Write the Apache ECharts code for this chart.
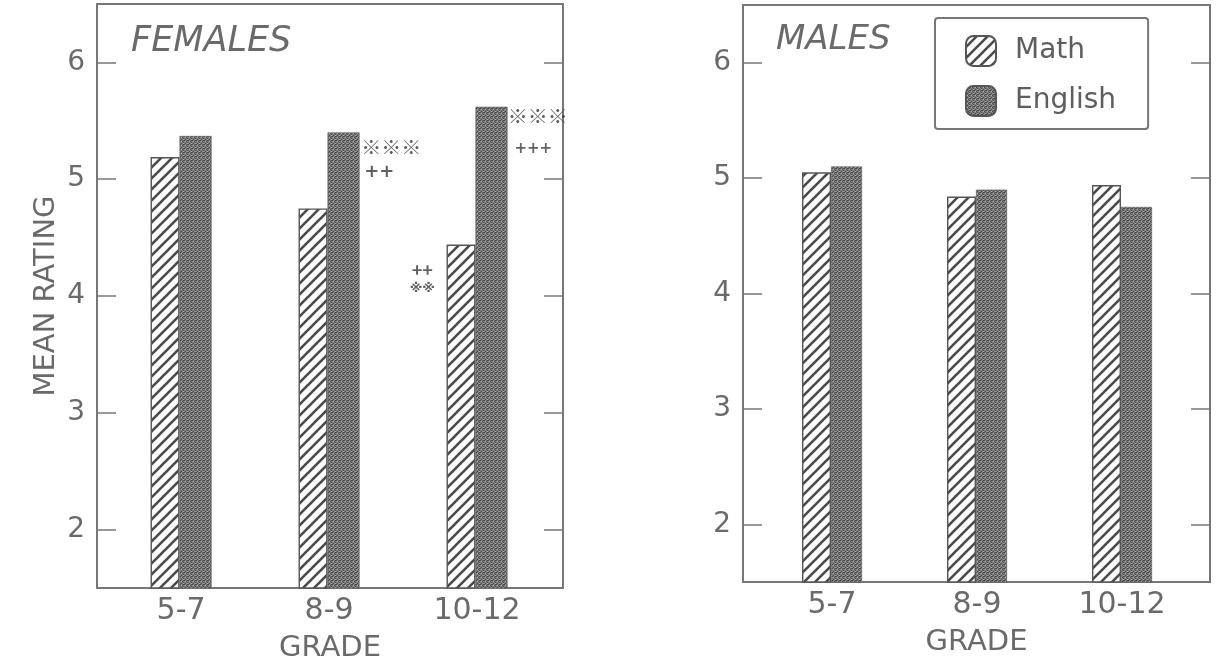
<!DOCTYPE html>
<html>
<head>
<meta charset="utf-8">
<script src="https://cdn.jsdelivr.net/npm/echarts@6/dist/echarts.min.js"></script>
<style>
  html, body { margin: 0; padding: 0; background: #fff; }
  #main { width: 1225px; height: 672px; }
</style>
</head>
<body>
<div id="main"></div>
<script>
// 数据
const grades = ['5-7', '8-9', '10-12'];
const gradePos = [1, 2, 3];
const femaleMath = [5.19, 4.75, 4.44];
const femaleEnglish = [5.37, 5.40, 5.62];
const maleMath = [5.05, 4.84, 4.94];
const maleEnglish = [5.10, 4.90, 4.75];
const yTicks = [2, 3, 4, 5, 6];
// significance marks (data coords on the FEMALES panel)
const markX = [2.42, 2.34, 3.41, 3.38, 2.63, 2.63];
const markY = [5.27, 5.06, 5.54, 5.26, 4.22, 4.06];
const markText = ['※※※', '++', '※※※', '+++', '++', '※※'];
const markSize = [20, 18, 20, 15, 18, 13];

const ink = '#6a6a6a';
const font = 'DejaVu Sans';

// hatch pattern for Math
let hatch = document.createElement('canvas');
hatch.width = 11; hatch.height = 11;
let hc = hatch.getContext('2d');
hc.fillStyle = '#fff';
hc.fillRect(0, 0, 11, 11);
hc.strokeStyle = '#4a4a4a';
hc.lineWidth = 2.6;
hc.beginPath();
hc.moveTo(-3, 14); hc.lineTo(14, -3);
hc.moveTo(-3, 3); hc.lineTo(3, -3);
hc.moveTo(8, 14); hc.lineTo(14, 8);
hc.stroke();

// stipple pattern for English
let dots = document.createElement('canvas');
dots.width = 4; dots.height = 4;
let dc = dots.getContext('2d');
dc.fillStyle = '#7c7c7c';
dc.fillRect(0, 0, 4, 4);
dc.fillStyle = '#474747';
[[0, 0], [2, 1], [1, 3], [3, 2], [3, 0]].forEach(p => dc.fillRect(p[0], p[1], 1, 1));
dc.fillStyle = '#b0b0b0';
[[1, 1], [3, 3]].forEach(p => dc.fillRect(p[0], p[1], 1, 1));

const mathColor = { image: hatch, repeat: 'repeat' };
const engColor = { image: dots, repeat: 'repeat' };

function pairs(vals) {
  return vals.map((v, i) => [gradePos[i], v]);
}

function xAxisFor(gi, min, max) {
  return {
    type: 'value', gridIndex: gi, min: min, max: max,
    splitLine: { show: false },
    axisLine: { show: false },
    axisTick: { show: false },
    axisLabel: {
      customValues: gradePos,
      formatter: v => grades[gradePos.indexOf(v)] || '',
      color: ink, fontSize: 30, fontFamily: font, margin: 8
    },
    name: 'GRADE', nameLocation: 'middle', nameGap: 46,
    nameTextStyle: { color: ink, fontSize: 29, fontFamily: font }
  };
}

function yAxisFor(gi, side, withName) {
  let ax = {
    type: 'value', gridIndex: gi, position: side, min: 1.5, max: 6.5,
    splitLine: { show: false },
    axisLine: { show: false },
    axisTick: {
      show: true, inside: true, length: 19, customValues: yTicks,
      lineStyle: { color: '#777', width: 1.5 }
    },
    axisLabel: {
      show: side == 'left', customValues: yTicks,
      color: ink, fontSize: 28, fontFamily: font, margin: 12
    }
  };
  if (withName) {
    ax.name = 'MEAN RATING';
    ax.nameLocation = 'middle';
    ax.nameRotate = 90;
    ax.nameGap = 36;
    ax.nameTextStyle = { color: ink, fontSize: 29, fontFamily: font };
  }
  return ax;
}

function barSeries(name, vals, xi, yi, color, w, bw) {
  return {
    name: name, type: 'bar', xAxisIndex: xi, yAxisIndex: yi,
    barWidth: w, barGap: '0%',
    itemStyle: { color: color, borderColor: '#555', borderWidth: bw },
    data: pairs(vals)
  };
}

let chart = echarts.init(document.getElementById('main'));
let option = {
  backgroundColor: '#fff',
  animation: false,
  title: [
    { text: 'FEMALES', left: 126, top: 19,
      textStyle: { color: ink, fontSize: 35, fontStyle: 'italic', fontWeight: 'normal', fontFamily: font } },
    { text: 'MALES', left: 771, top: 18,
      textStyle: { color: ink, fontSize: 34, fontStyle: 'italic', fontWeight: 'normal', fontFamily: font } }
  ],
  legend: {
    orient: 'vertical', left: 935, top: 18,
    padding: [17, 32, 12, 30], itemGap: 18, itemWidth: 30, itemHeight: 30,
    borderColor: '#777', borderWidth: 2, borderRadius: 3,
    data: ['Math', 'English'],
    textStyle: { color: '#5e5e5e', fontSize: 28, fontFamily: font, padding: [0, 0, 0, 14] }
  },
  grid: [
    { left: 97, top: 4, width: 466, height: 584, show: true, borderColor: '#777', borderWidth: 2, backgroundColor: 'transparent' },
    { left: 743, top: 5, width: 467, height: 577, show: true, borderColor: '#777', borderWidth: 2, backgroundColor: 'transparent' }
  ],
  xAxis: [xAxisFor(0, 0.432, 3.581), xAxisFor(1, 0.386, 3.607)],
  yAxis: [yAxisFor(0, 'left', true), yAxisFor(0, 'right', false), yAxisFor(1, 'left', false), yAxisFor(1, 'right', false)],
  series: [
    barSeries('Math', femaleMath, 0, 0, mathColor, 29, 1.4),
    barSeries('English', femaleEnglish, 0, 0, engColor, 32, 0.6),
    barSeries('Math', maleMath, 1, 2, mathColor, 29, 1.4),
    barSeries('English', maleEnglish, 1, 2, engColor, 31, 0.6),
    {
      type: 'scatter', xAxisIndex: 0, yAxisIndex: 0, symbolSize: 1,
      itemStyle: { color: 'rgba(0,0,0,0)' },
      silent: true,
      data: markX.map((x, i) => ({
        value: [x, markY[i]],
        label: {
          show: true, position: 'inside', formatter: markText[i],
          fontSize: markSize[i], color: '#3a3a3a', fontWeight: 'bold',
          fontFamily: i % 2 ? font : 'Noto Sans CJK SC'
        }
      }))
    }
  ]
};
chart.setOption(option);
</script>
</body>
</html>
